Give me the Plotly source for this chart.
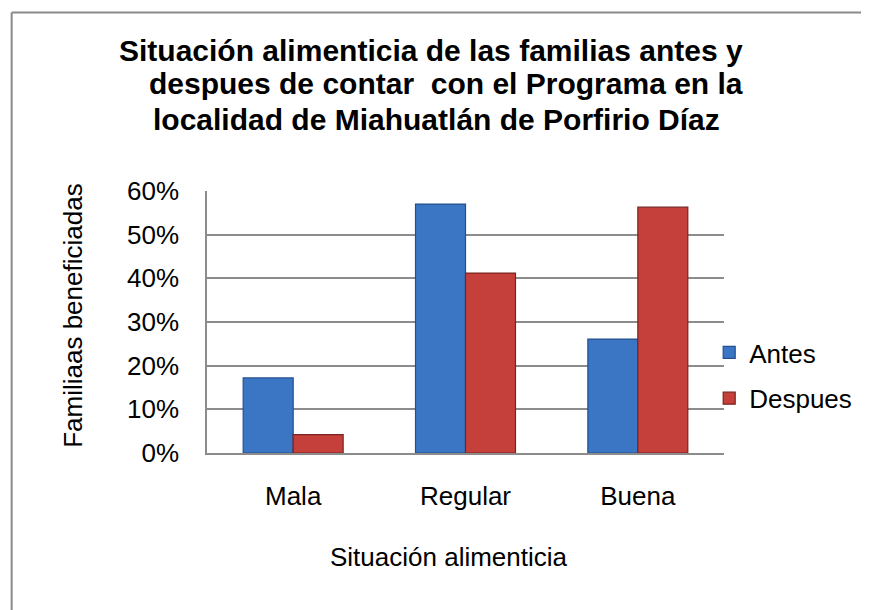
import plotly.graph_objects as go

categories = ["Mala", "Regular", "Buena"]
antes = [0.172, 0.570, 0.261]
despues = [0.042, 0.412, 0.563]
series_names = ["Antes", "Despues"]
y_tick_vals = [0, 0.1, 0.2, 0.3, 0.4, 0.5, 0.6]
y_tick_text = ["0%", "10%", "20%", "30%", "40%", "50%", "60%"]

title_lines = [
    "Situación alimenticia de las familias antes y",
    "despues de contar \u00a0con el Programa en la",
    "localidad de Miahuatlán de Porfirio Díaz",
]
x_title = "Situación alimenticia"
y_title = "Familiaas beneficiadas"

# page has an 8px body margin; work in page coordinates and convert
OFF = 8
W, H = 869 - OFF, 610 - OFF
PL, PR, PT, PB = 207, 731, 191, 453          # plot area in page px
L, R, T, B = PL - OFF, 869 - PR, PT - OFF, 610 - PB
pw, ph = PR - PL, PB - PT


def px(x):
    return (x - PL) / pw


def py(y):
    return (PB - y) / ph


FONT = "Liberation Sans, Arial, sans-serif"

fig = go.Figure()
fig.add_trace(go.Bar(
    x=categories, y=antes, name=series_names[0], legendgroup="a",
    marker=dict(color="#3b76c4", line=dict(color="#244f8c", width=1.2)),
))
fig.add_trace(go.Bar(
    x=categories, y=despues, name=series_names[1], legendgroup="d",
    marker=dict(color="#c6403b", line=dict(color="#7a2320", width=1.2)),
))

fig.update_layout(
    width=W, height=H,
    margin=dict(l=L, r=R, t=T, b=B, pad=0),
    paper_bgcolor="white", plot_bgcolor="white",
    barmode="group", bargap=0.42, bargroupgap=0,
    font=dict(family=FONT, size=26, color="#000000"),
    showlegend=True,
    legend=dict(
        x=px(716), y=py(329), xanchor="left", yanchor="top",
        traceorder="grouped", tracegroupgap=9,
        font=dict(size=26, family=FONT), bgcolor="rgba(0,0,0,0)",
    ),
)

fig.update_yaxes(
    range=[0, 0.6], tickvals=y_tick_vals, ticktext=y_tick_text,
    showgrid=True, gridcolor="#8c8c8c", gridwidth=1.5,
    showline=True, linecolor="#8c8c8c", linewidth=1.5,
    ticks="", ticklabelstandoff=21, zeroline=False,
    tickfont=dict(size=26, family=FONT),
)
fig.update_xaxes(
    showline=True, linecolor="#8c8c8c", linewidth=1.5,
    ticks="", ticklabelstandoff=19, showgrid=False,
    tickfont=dict(size=26, family=FONT),
)

# Title (three centred lines)
title_centers = [(434, 50), (449, 84), (440, 119)]
for line, (cx, cy) in zip(title_lines, title_centers):
    fig.add_annotation(
        text=line, xref="paper", yref="paper",
        x=px(cx), y=py(cy), xanchor="center", yanchor="middle",
        showarrow=False,
        font=dict(family=FONT, size=30, color="#000000", weight="bold"),
    )

# Axis titles
fig.add_annotation(
    text=x_title, xref="paper", yref="paper",
    x=px(452), y=py(557), xanchor="center", yanchor="middle",
    showarrow=False, font=dict(family=FONT, size=26),
)
fig.add_annotation(
    text=y_title, xref="paper", yref="paper",
    x=px(71), y=py(316), xanchor="center", yanchor="middle",
    showarrow=False, textangle=-90, font=dict(family=FONT, size=26),
)

# Outer chart border (extends past page on right/bottom)
border = dict(color="#8a8a8a", width=2)
fig.add_shape(type="line", xref="paper", yref="paper",
              x0=px(9), y0=py(620), x1=px(9), y1=py(12.5), line=border)
fig.add_shape(type="line", xref="paper", yref="paper",
              x0=px(9), y0=py(12.5), x1=px(880), y1=py(12.5), line=border)

fig.write_html("out.html")
